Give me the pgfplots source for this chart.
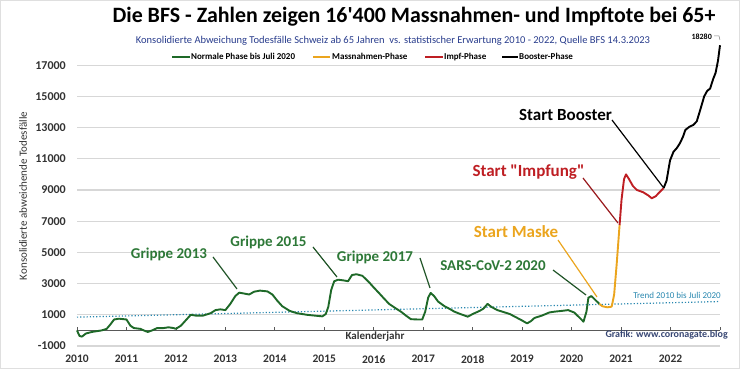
\documentclass[border=0pt]{standalone}
\usepackage{pgfplots}
\pgfplotsset{compat=1.18}
\usepackage{fontspec}
\setmainfont{Carlito}[Ligatures=TeXOff]
\definecolor{cgreen}{RGB}{30,105,40}
\definecolor{agreen}{RGB}{45,120,55}
\definecolor{corange}{RGB}{235,165,30}
\definecolor{cred}{RGB}{190,30,35}
\definecolor{subblue}{RGB}{40,60,140}
\definecolor{trendc}{RGB}{40,135,175}
\definecolor{gridc}{RGB}{215,215,215}
\definecolor{grafc}{RGB}{55,70,115}
\definecolor{tickc}{RGB}{50,50,50}

\pgfplotstableread{
x y
2010.00 0
2010.05 -350
2010.10 -400
2010.18 -200
2010.30 -100
2010.40 -50
2010.50 0
2010.60 100
2010.68 400
2010.75 700
2010.85 750
2011.00 700
2011.08 300
2011.15 150
2011.28 100
2011.35 0
2011.43 -100
2011.52 0
2011.62 150
2011.75 150
2011.85 200
2011.95 150
2012.00 100
2012.10 300
2012.20 650
2012.30 1000
2012.40 950
2012.55 950
2012.70 1100
2012.80 1300
2012.90 1350
2013.00 1300
2013.10 1700
2013.20 2200
2013.28 2420
2013.40 2350
2013.48 2300
2013.58 2480
2013.70 2550
2013.85 2500
2013.95 2300
2014.05 1900
2014.15 1550
2014.30 1250
2014.45 1100
2014.65 1000
2014.80 950
2014.96 900
2015.03 1050
2015.08 1500
2015.14 2600
2015.20 3150
2015.28 3250
2015.40 3200
2015.48 3150
2015.56 3550
2015.65 3600
2015.77 3500
2015.90 3100
2016.00 2750
2016.11 2380
2016.22 2000
2016.31 1700
2016.45 1400
2016.55 1200
2016.65 950
2016.75 720
2016.88 700
2016.98 700
2017.04 1200
2017.10 2100
2017.15 2400
2017.22 2200
2017.30 1850
2017.43 1550
2017.55 1350
2017.63 1200
2017.75 1050
2017.90 880
2018.00 1050
2018.14 1250
2018.22 1400
2018.30 1700
2018.38 1500
2018.50 1300
2018.65 1150
2018.75 1050
2018.90 800
2018.99 650
2019.10 450
2019.18 600
2019.25 800
2019.40 950
2019.55 1150
2019.65 1200
2019.80 1250
2019.93 1300
2020.05 1150
2020.15 850
2020.24 560
2020.30 1200
2020.34 2100
2020.40 2200
2020.48 1950
2020.56 1700
}\greendata

\pgfplotstableread{
x y
2020.56 1700
2020.62 1550
2020.72 1480
2020.81 1520
2020.86 2300
2020.91 4200
2020.97 6760
}\orangedata

\pgfplotstableread{
x y
2020.97 6760
2021.01 8400
2021.06 9700
2021.10 10000
2021.16 9700
2021.24 9250
2021.32 9000
2021.45 8850
2021.55 8650
2021.62 8470
2021.70 8600
2021.79 8900
2021.86 9120
}\reddata

\pgfplotstableread{
x y
2021.86 9120
2021.92 9600
2021.99 10900
2022.06 11450
2022.13 11700
2022.19 12000
2022.25 12400
2022.30 12850
2022.38 13050
2022.46 13170
2022.53 13400
2022.60 14130
2022.68 15000
2022.74 15350
2022.80 15500
2022.86 16100
2022.91 16500
2022.96 17300
2023.00 18280
}\blackdata

\pgfplotstableread{
x y
2010 850
2023 1850
}\trenddata

\begin{document}
\begin{tikzpicture}
\begin{scope}[x=1pt,y=1pt]
\path[use as bounding box] (0,0) rectangle (740,369);
\draw[gray!25] (0.5,0.5) rectangle (739.5,368.5);
\end{scope}
\begin{axis}[
  at={(77pt,23pt)}, anchor=south west,
  scale only axis, width=643pt, height=312pt,
  xmin=2010, xmax=2023, ymin=-1000, ymax=19000,
  clip=false,
  axis line style={draw=none},
  xtick={2010,2011,...,2022},
  xticklabels={2010,2011,2012,2013,2014,2015,2016,2017,2018,2019,2020,2021,2022},
  ytick={-1000,1000,3000,5000,7000,9000,11000,13000,15000,17000},
  yticklabels={-1000,1000,3000,5000,7000,9000,11000,13000,15000,17000},
  scaled y ticks=false,
  ymajorgrids, grid style={gridc, line width=1.1pt},
  major tick length=0pt,
  xticklabel style={font=\fontsize{11.5}{13}\selectfont\bfseries, text=tickc, inner sep=0pt, yshift=-9pt},
  yticklabel style={font=\fontsize{12}{14}\selectfont\bfseries, text=tickc, inner sep=0pt, xshift=-11pt},
]
\draw[gray!70!black, line width=1pt] (axis cs:2010,0) -- (axis cs:2023,0);
\pgfplotsinvokeforeach{2010,...,2023}{
  \draw[gray!70!black, line width=0.8pt] (axis cs:#1,0) -- ++(0pt,3.5pt);
}
\addplot[trendc, dotted, line width=1.2pt] table[x=x,y=y] {\trenddata};
\addplot[cgreen, line width=1.9pt, line join=round] table[x=x,y=y] {\greendata};
\addplot[corange, line width=1.9pt, line join=round] table[x=x,y=y] {\orangedata};
\addplot[cred, line width=1.9pt, line join=round] table[x=x,y=y] {\reddata};
\addplot[black, line width=1.9pt, line join=round] table[x=x,y=y] {\blackdata};
\end{axis}
\begin{scope}[x=1pt,y=1pt]
% title and subtitle
\node at (414,352) {\fontsize{21.9}{24}\selectfont\bfseries Die BFS - Zahlen zeigen 16'400 Massnahmen- und Impftote bei 65+};
\node[text=subblue] at (393,328) {\fontsize{10.5}{12}\selectfont Konsolidierte Abweichung Todesfälle Schweiz ab 65 Jahren\ \ vs. statistischer Erwartung 2010 - 2022, Quelle BFS 14.3.2023};
% legend
\draw[cgreen, line width=1.8pt] (172,312.3) -- (190,312.3);
\node[anchor=west, inner sep=0pt] at (191,312.3) {\fontsize{9}{10}\selectfont\bfseries Normale Phase bis Juli 2020};
\draw[corange, line width=1.8pt] (313,312.3) -- (330,312.3);
\node[anchor=west, inner sep=0pt] at (332,312.3) {\fontsize{9}{10}\selectfont\bfseries Massnahmen-Phase};
\draw[cred, line width=1.8pt] (425,312.3) -- (443,312.3);
\node[anchor=west, inner sep=0pt] at (444,312.3) {\fontsize{9}{10}\selectfont\bfseries Impf-Phase};
\draw[black, line width=1.8pt] (502,312.3) -- (518,312.3);
\node[anchor=west, inner sep=0pt] at (519,312.3) {\fontsize{9}{10}\selectfont\bfseries Booster-Phase};
% y label
\node[rotate=90, text=tickc] at (23,173) {\fontsize{11}{12}\selectfont Konsolidierte abweichende Todesfälle};
% small texts
\node[text=tickc] at (375,32) {\fontsize{11}{12}\selectfont\bfseries Kalenderjahr};
\node[anchor=east, inner sep=0pt, text=grafc] at (728,34) {\fontsize{10}{12}\selectfont\bfseries Grafik: www.coronagate.blog};
\node[anchor=east, inner sep=0pt, text=trendc] at (721,74) {\fontsize{9}{10}\selectfont Trend 2010 bis Juli 2020};
\node[anchor=east, inner sep=0pt] at (712,332) {\fontsize{8}{9}\selectfont\bfseries 18280};
\draw[gray, line width=0.5pt] (714,333) -- (719,333) -- (720,329);
% annotations
\node[text=agreen] at (169,115) {\fontsize{15}{17}\selectfont\bfseries Grippe 2013};
\draw[agreen!70!black, line width=1.2pt] (213,112) -- (237,80);
\node[text=agreen] at (268.5,127) {\fontsize{15}{17}\selectfont\bfseries Grippe 2015};
\draw[agreen!70!black, line width=1.2pt] (313,122) -- (337,92);
\node[text=agreen] at (375,112) {\fontsize{15}{17}\selectfont\bfseries Grippe 2017};
\draw[agreen!70!black, line width=1.2pt] (420,111) -- (430,81);
\node[text=agreen] at (493,103) {\fontsize{15}{17}\selectfont\bfseries SARS-CoV-2 2020};
\draw[agreen!70!black, line width=1.2pt] (553,99) -- (586,74);
\node[text=corange] at (516,137) {\fontsize{17}{19}\selectfont\bfseries Start Maske};
\draw[corange, line width=1.2pt] (558,129) -- (597,72);
\node[text=cred] at (528.5,197) {\fontsize{17}{19}\selectfont\bfseries Start "Impfung"};
\draw[cred!80!black, line width=1.2pt] (583,191) -- (618,146);
\node[text=black] at (565.5,254) {\fontsize{17}{19}\selectfont\bfseries Start Booster};
\draw[black, line width=1.2pt] (612,249) -- (663,182);
\end{scope}
\end{tikzpicture}
\end{document}
